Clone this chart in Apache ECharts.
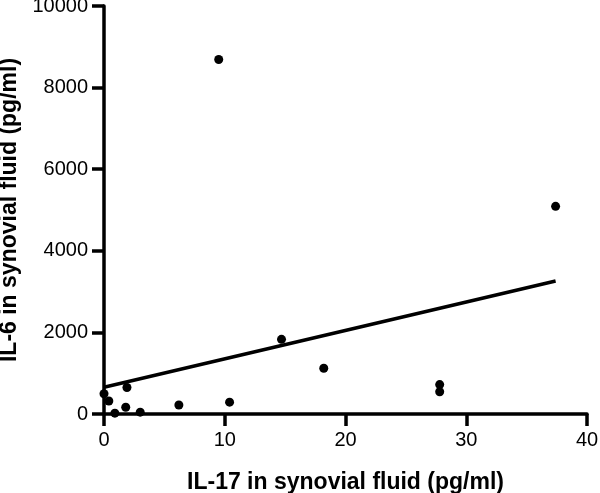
<!DOCTYPE html>
<html>
<head>
<meta charset="utf-8">
<script src="https://cdn.jsdelivr.net/npm/echarts@6/dist/echarts.min.js"></script>
<style>
  html, body { margin: 0; padding: 0; background: #fff; }
  #main { width: 600px; height: 493px; }
</style>
</head>
<body>
<div id="main"></div>
<script>
// IL-17 (x) vs IL-6 (y)
var il17 = [9.5, 37.4, 14.7, 18.2, 27.8, 27.8, 0.0, 0.4, 1.9, 1.8, 0.9, 3.0, 6.2, 10.4];
var il6 = [8690, 5090, 1830, 1120, 720, 545, 495, 320, 650, 165, 20, 45, 220, 290];
// regression line end points
var fitX = [0, 37.4];
var fitY = [655, 3260];

var xTicks = [0, 10, 20, 30, 40];
var yTicks = [0, 2000, 4000, 6000, 8000, 10000];

var points = [];
for (var i = 0; i < il17.length; i++) {
    points.push([il17[i], il6[i]]);
}
var fit = [];
for (var j = 0; j < fitX.length; j++) {
    fit.push([fitX[j], fitY[j]]);
}

var myChart = echarts.init(document.getElementById('main'));
var font = 'Liberation Sans, Arial, Helvetica, sans-serif';

function makeAxis(name, ticks, step, gap) {
    return {
        type: 'value',
        min: ticks[0],
        max: ticks[ticks.length - 1],
        interval: step,
        name: name,
        nameLocation: 'middle',
        nameGap: gap,
        nameTextStyle: { color: '#000', fontSize: 23, fontWeight: 'bold', fontFamily: font },
        axisLine: { show: true, onZero: false, lineStyle: { color: '#000', width: 3.5 } },
        axisTick: { show: true, inside: false, length: 12, lineStyle: { color: '#000', width: 3.5 } },
        splitLine: { show: false },
        axisLabel: {
            color: '#000', fontSize: 20, fontFamily: font, margin: 16,
            formatter: function (v) { return String(v); }
        }
    };
}

var option = {
    animation: false,
    grid: { left: 104, right: 13, top: 6, bottom: 79, containLabel: false, outerBoundsMode: 'none' },
    xAxis: makeAxis('IL-17 in synovial fluid (pg/ml)', xTicks, 10, 57),
    yAxis: makeAxis('IL-6 in synovial fluid (pg/ml)', yTicks, 2000, 69),
    series: [
        {
            type: 'line',
            data: fit,
            symbol: 'none',
            lineStyle: { color: '#000', width: 3.5 },
            z: 2
        },
        {
            type: 'scatter',
            data: points,
            symbolSize: 9,
            itemStyle: { color: '#000', opacity: 1 },
            z: 3
        }
    ]
};
myChart.setOption(option);
</script>
</body>
</html>
